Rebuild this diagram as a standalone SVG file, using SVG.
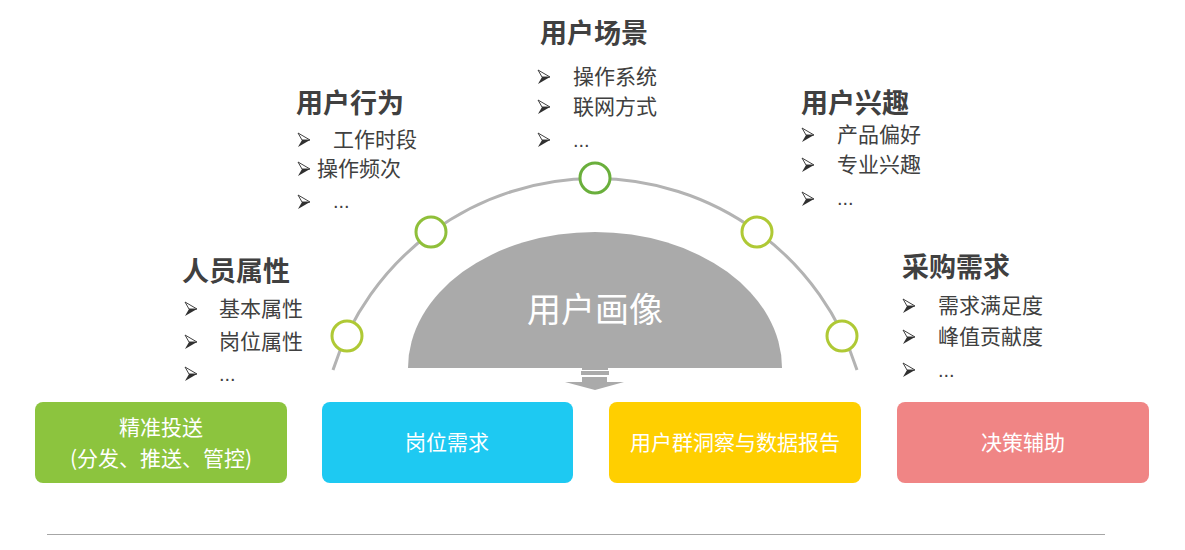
<svg xmlns="http://www.w3.org/2000/svg" width="1185" height="550" viewBox="0 0 1185 550">
<style>
.h{font-family:"Noto Sans CJK SC","Liberation Sans",sans-serif;font-weight:bold;font-size:27px;fill:#404040}
.t{font-family:"Noto Sans CJK SC","Liberation Sans",sans-serif;font-size:21px;fill:#404040}
.d{font-family:"Liberation Sans",sans-serif;font-size:20px;fill:#404040}
.w{font-family:"Noto Sans CJK SC","Liberation Sans",sans-serif;font-size:21px;fill:#ffffff;text-anchor:middle}
.dot{fill:#ffffff;stroke-width:3}
</style>
<defs>
<g id="bul">
<path d="M 0 -7 L 12 0 L 4 0 Z" fill="#ffffff" stroke="#404040" stroke-width="1" stroke-linejoin="round"/>
<path d="M 4 0 L 12 0 L 0 7 Z" fill="#303030"/>
</g>
</defs>
<rect width="1185" height="550" fill="#ffffff"/>
<g id="connectors">
<path d="M 333 370 A 275 275 0 0 1 857 370" fill="none" stroke="#b3b3b3" stroke-width="3"/>
</g>
<g id="core">
<path d="M 408 368 A 187 136 0 0 1 782 368 Z" fill="#aaaaaa"/>
<text x="595" y="322" font-family="Noto Sans CJK SC, Liberation Sans, sans-serif" font-size="34" fill="#ffffff" text-anchor="middle">用户画像</text>
<rect x="582" y="368" width="26" height="2" fill="#aaaaaa"/>
<rect x="581" y="371" width="28" height="4" fill="#aaaaaa"/>
<path d="M 582 377 H 607 V 382 H 624 L 595 390 L 565 382 H 582 Z" fill="#aaaaaa"/>
</g>
<g id="circles">
<circle cx="347" cy="336" r="15" class="dot" stroke="#afc935"/>
<circle cx="431" cy="232" r="15" class="dot" stroke="#8fbf3a"/>
<circle cx="595" cy="178" r="15" class="dot" stroke="#6aaf3c"/>
<circle cx="757" cy="232" r="15" class="dot" stroke="#afc935"/>
<circle cx="842" cy="336" r="15" class="dot" stroke="#afc935"/>
</g>
<g id="node-renyuan">
<text x="182" y="281" class="h">人员属性</text>
<use href="#bul" x="185" y="309"/><text x="219" y="316" class="t">基本属性</text>
<use href="#bul" x="185" y="342"/><text x="219" y="349" class="t">岗位属性</text>
<use href="#bul" x="185" y="374"/><text x="219" y="381" class="d">...</text>
</g>
<g id="node-xingwei">
<text x="296" y="113" class="h">用户行为</text>
<use href="#bul" x="298" y="140"/><text x="333" y="147" class="t">工作时段</text>
<use href="#bul" x="298" y="169"/><text x="317" y="176" class="t">操作频次</text>
<use href="#bul" x="298" y="202"/><text x="333" y="208" class="d">...</text>
</g>
<g id="node-changjing">
<text x="540" y="43" class="h">用户场景</text>
<use href="#bul" x="538" y="77"/><text x="573" y="84" class="t">操作系统</text>
<use href="#bul" x="538" y="107"/><text x="573" y="114" class="t">联网方式</text>
<use href="#bul" x="538" y="140"/><text x="573" y="147" class="d">...</text>
</g>
<g id="node-xingqu">
<text x="801" y="113" class="h">用户兴趣</text>
<use href="#bul" x="802" y="135"/><text x="837" y="142" class="t">产品偏好</text>
<use href="#bul" x="802" y="165"/><text x="837" y="172" class="t">专业兴趣</text>
<use href="#bul" x="802" y="199"/><text x="837" y="205" class="d">...</text>
</g>
<g id="node-caigou">
<text x="902" y="277" class="h">采购需求</text>
<use href="#bul" x="903" y="306"/><text x="938" y="313" class="t">需求满足度</text>
<use href="#bul" x="903" y="337"/><text x="938" y="344" class="t">峰值贡献度</text>
<use href="#bul" x="903" y="370"/><text x="938" y="377" class="d">...</text>
</g>
<g id="box-jingzhun">
<rect x="35" y="402" width="252" height="81" rx="8" fill="#8cc43e"/>
<text x="161" y="435" class="w">精准投送</text>
<text x="161" y="466" class="w">(分发、推送、管控)</text>
</g>
<g id="box-gangwei">
<rect x="322" y="402" width="251" height="81" rx="8" fill="#1ec9f2"/>
<text x="447" y="450" class="w">岗位需求</text>
</g>
<g id="box-yonghuqun">
<rect x="609" y="402" width="252" height="81" rx="8" fill="#ffcf00"/>
<text x="735" y="450" class="w">用户群洞察与数据报告</text>
</g>
<g id="box-juece">
<rect x="897" y="402" width="252" height="81" rx="8" fill="#f08585"/>
<text x="1023" y="450" class="w">决策辅助</text>
</g>
<line x1="47" y1="534.5" x2="1105" y2="534.5" stroke="#a6a6a6" stroke-width="1"/>
</svg>
